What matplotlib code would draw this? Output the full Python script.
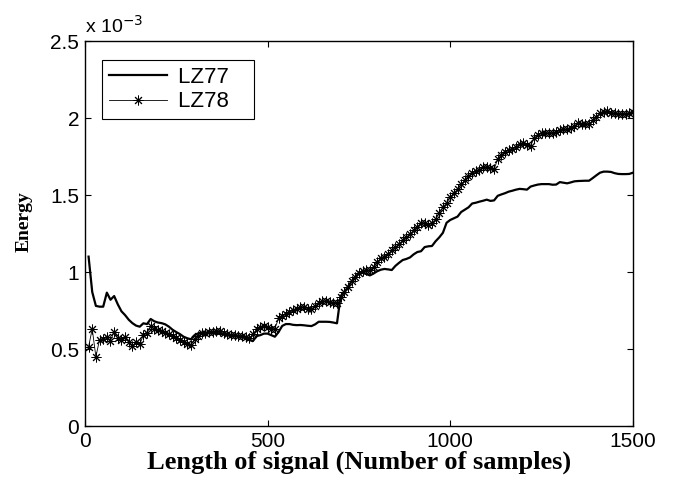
import numpy as np
import matplotlib
matplotlib.use("Agg")
import matplotlib.pyplot as plt

# sample positions (every 10 samples)
samples = list(range(10, 1501, 10))

# energy values, in units of 1e-3
lz77 = [1.10, 0.87, 0.78, 0.775, 0.775, 0.866, 0.82, 0.844, 0.79, 0.745,
        0.72, 0.69, 0.668, 0.652, 0.645, 0.667, 0.662, 0.695, 0.68, 0.672,
        0.668, 0.66, 0.645, 0.625, 0.61, 0.597, 0.58, 0.57, 0.563, 0.59,
        0.602, 0.606, 0.606, 0.606, 0.606, 0.603, 0.598, 0.594, 0.59, 0.588,
        0.586, 0.582, 0.578, 0.57, 0.558, 0.552, 0.584, 0.59, 0.60, 0.60,
        0.59, 0.58, 0.61, 0.65, 0.662, 0.662, 0.657, 0.655, 0.656, 0.654,
        0.651, 0.649, 0.66, 0.677, 0.677, 0.677, 0.676, 0.672, 0.667, 0.845,
        0.868, 0.905, 0.94, 0.965, 0.995, 0.995, 0.987, 0.978, 0.99, 1.005,
        1.015, 1.02, 1.017, 1.013, 1.04, 1.06, 1.078, 1.085, 1.095, 1.115,
        1.13, 1.135, 1.162, 1.167, 1.169, 1.20, 1.225, 1.255, 1.32, 1.338,
        1.349, 1.36, 1.39, 1.405, 1.42, 1.445, 1.45, 1.457, 1.463, 1.47,
        1.462, 1.465, 1.495, 1.504, 1.512, 1.522, 1.528, 1.535, 1.54, 1.538,
        1.535, 1.555, 1.562, 1.568, 1.571, 1.571, 1.571, 1.567, 1.568, 1.584,
        1.58, 1.576, 1.582, 1.589, 1.591, 1.592, 1.593, 1.593, 1.61, 1.628,
        1.645, 1.652, 1.652, 1.65, 1.642, 1.637, 1.636, 1.636, 1.637, 1.645]

lz78 = [0.515, 0.63, 0.45, 0.56, 0.567, 0.576, 0.554, 0.612, 0.57, 0.56,
        0.576, 0.547, 0.52, 0.547, 0.53, 0.591, 0.606, 0.649, 0.63, 0.623,
        0.615, 0.607, 0.598, 0.585, 0.57, 0.558, 0.547, 0.535, 0.526, 0.565,
        0.585, 0.602, 0.605, 0.608, 0.612, 0.616, 0.619, 0.607, 0.597, 0.594,
        0.59, 0.586, 0.582, 0.577, 0.572, 0.595, 0.628, 0.64, 0.649, 0.64,
        0.63, 0.632, 0.699, 0.715, 0.73, 0.74, 0.752, 0.76, 0.77, 0.775,
        0.762, 0.758, 0.78, 0.796, 0.814, 0.81, 0.805, 0.801, 0.797, 0.84,
        0.87, 0.90, 0.94, 0.97, 0.995, 1.005, 1.013, 1.01, 1.035, 1.067,
        1.088, 1.10, 1.12, 1.14, 1.16, 1.18, 1.21, 1.225, 1.245, 1.275,
        1.295, 1.32, 1.318, 1.305, 1.32, 1.345, 1.385, 1.42, 1.45, 1.49,
        1.51, 1.54, 1.571, 1.595, 1.625, 1.64, 1.655, 1.665, 1.68, 1.684,
        1.675, 1.667, 1.735, 1.76, 1.781, 1.79, 1.797, 1.812, 1.83, 1.836,
        1.825, 1.82, 1.87, 1.89, 1.906, 1.905, 1.902, 1.90, 1.91, 1.92,
        1.926, 1.928, 1.935, 1.95, 1.966, 1.964, 1.962, 1.962, 1.985, 2.01,
        2.034, 2.042, 2.045, 2.036, 2.032, 2.027, 2.026, 2.026, 2.03, 2.04]

xticks = [0, 500, 1000, 1500]
yticks = [0, 0.5, 1, 1.5, 2, 2.5]
ytick_labels = ["0", "0.5", "1", "1.5", "2", "2.5"]

plt.rcParams['font.family'] = ['Liberation Sans', 'DejaVu Sans']

fig = plt.figure(figsize=(6.74, 4.83), dpi=100)
ax = fig.add_axes([0.126, 0.118, 0.813, 0.797])

ax.plot(samples, lz77, color="black", linewidth=1.6, label="LZ77   ")
# asterisk marker like matlab's '*'
ax.plot(samples, lz78, color="black", linewidth=0.6, marker=(8, 2, 0),
        markersize=7, markeredgewidth=0.7, label="LZ78   ")

ax.set_xlim(0, 1500)
ax.set_ylim(0, 2.5)
ax.set_xticks(xticks)
ax.set_yticks(yticks)
ax.set_yticklabels(ytick_labels)
ax.tick_params(direction="in", top=True, right=True, labelsize=15, length=4, pad=4)
for s in ax.spines.values():
    s.set_linewidth(1.0)

ax.set_xlabel("Length of signal (Number of samples)", family="Liberation Serif",
              fontweight="bold", fontsize=19, labelpad=0)
ax.set_ylabel("Energy", family="Liberation Serif", fontweight="bold",
              fontsize=14)
ax.yaxis.set_label_coords(-0.095, 0.532)

ax.text(0.0, 1.01, r"x 10$^{-3}$", transform=ax.transAxes, fontsize=14,
        ha="left", va="bottom")

leg = ax.legend(loc="upper left", bbox_to_anchor=(0.032, 0.95), fontsize=16,
                fancybox=False, framealpha=1, edgecolor="black",
                handlelength=2.6, handletextpad=0.5, borderpad=0.3,
                labelspacing=0.15, borderaxespad=0)
leg.get_frame().set_linewidth(0.8)

fig.savefig("out.png", dpi=100)
